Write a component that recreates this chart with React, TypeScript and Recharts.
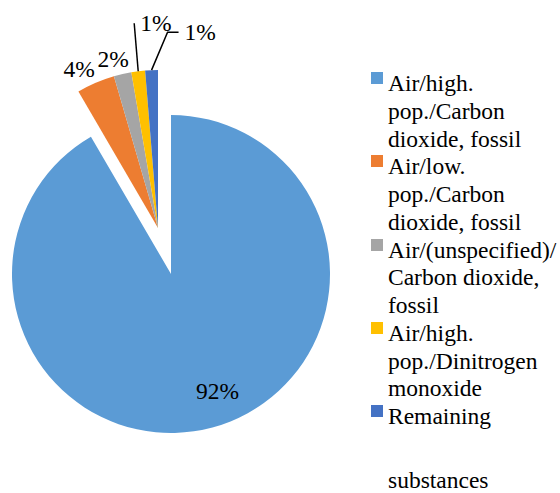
import React from 'react';
import { PieChart, Pie, Cell, Legend } from 'recharts';

// Substance categories (line breaks as shown in the legend)
const categories = [
  'Air/high.\npop./Carbon\ndioxide, fossil',
  'Air/low.\npop./Carbon\ndioxide, fossil',
  'Air/(unspecified)/\nCarbon dioxide,\nfossil',
  'Air/high.\npop./Dinitrogen\nmonoxide',
  'Remaining\n\nsubstances',
];

// Share of each substance (percent)
const shares = [91.6, 3.9, 1.8, 1.4, 1.3];

const colors = ['#5B9BD5', '#ED7D31', '#A5A5A5', '#FFC000', '#4472C4'];

const data = categories.map((name, i) => ({ name, value: shares[i] }));

const FONT = 'Liberation Serif';
const FONT_SIZE = 23.5;
const RAD = Math.PI / 180;

// Leader-line layout for the thinnest slices (offsets from the slice edge)
const leaders: Record<number, { dx: number; dy: number; run: number }> = {
  3: { dx: -4, dy: -48, run: 0 },
  4: { dx: 16, dy: -38, run: 11 },
};

const pctText = (p: number) => `${Math.round(p * 100)}%`;

const mainLabel = (props: any) => {
  const { cx, cy, midAngle, outerRadius, percent, index } = props;
  if (index !== 0) return null;
  const r = outerRadius * 0.76;
  const x = cx + r * Math.cos(-midAngle * RAD) + 15;
  const y = cy + r * Math.sin(-midAngle * RAD);
  return (
    <text x={x} y={y} textAnchor="middle" dominantBaseline="central"
      fontFamily={FONT} fontSize={FONT_SIZE} fill="#000">
      {pctText(percent)}
    </text>
  );
};

const explodedLabel = (props: any) => {
  const { cx, cy, midAngle, outerRadius, percent, index } = props;
  if (index === 0) return null;
  const c = Math.cos(-midAngle * RAD);
  const s = Math.sin(-midAngle * RAD);
  const ex = cx + outerRadius * c;
  const ey = cy + outerRadius * s;
  const lead = leaders[index];
  if (lead) {
    const mx = ex + lead.dx;
    const my = ey + lead.dy;
    const tx = mx + lead.run;
    return (
      <g>
        <polyline points={`${ex},${ey} ${mx},${my} ${tx},${my}`}
          fill="none" stroke="#000" strokeWidth={1.5} />
        <text x={tx + 6} y={my} textAnchor="start" dominantBaseline="central"
          fontFamily={FONT} fontSize={FONT_SIZE} fill="#000">
          {pctText(percent)}
        </text>
      </g>
    );
  }
  const r = outerRadius + 14;
  const px = cx + r * c;
  const py = cy + r * s;
  const x = px + c * 28;
  const y = py + s * 1.5;
  return (
    <text x={x} y={y} textAnchor="middle" dominantBaseline="central"
      fontFamily={FONT} fontSize={FONT_SIZE} fill="#000">
      {pctText(percent)}
    </text>
  );
};

const LegendBox = () => (
  <div style={{ fontFamily: FONT, fontSize: FONT_SIZE, lineHeight: '27.75px', color: '#000' }}>
    {categories.map((name, i) => (
      <div key={i} style={{ position: 'relative', paddingLeft: 17 }}>
        <span style={{ position: 'absolute', left: 0, top: 2, width: 12, height: 12, background: colors[i] }} />
        {name.split('\n').map((line, j) =>
          line ? (
            <div key={j} style={{ whiteSpace: 'pre' }}>{line}</div>
          ) : (
            <div key={j} style={{ height: 36 }} />
          )
        )}
      </div>
    ))}
  </div>
);

export default function App() {
  return (
    <div style={{ position: 'absolute', left: 0, top: 0, background: '#fff' }}>
      <PieChart width={560} height={493} margin={{ top: 0, right: 0, bottom: 0, left: 0 }}>
        {/* main slice */}
        <Pie data={data} dataKey="value" nameKey="name" cx={171} cy={274} outerRadius={159}
          startAngle={90} endAngle={-270} stroke="none" isAnimationActive={false}
          label={mainLabel} labelLine={false}>
          {data.map((d, i) => (
            <Cell key={i} fill={i === 0 ? colors[i] : 'none'} stroke="none" />
          ))}
        </Pie>
        {/* exploded group of small slices */}
        <Pie data={data} dataKey="value" nameKey="name" cx={158} cy={228} outerRadius={158}
          startAngle={90} endAngle={-270} stroke="none" isAnimationActive={false}
          label={explodedLabel} labelLine={false}>
          {data.map((d, i) => (
            <Cell key={i} fill={i === 0 ? 'none' : colors[i]} stroke="none" />
          ))}
        </Pie>
        <Legend layout="vertical" align="right" verticalAlign="middle"
          content={() => <LegendBox />}
          wrapperStyle={{ left: 371, top: 70, width: 189 }} />
      </PieChart>
    </div>
  );
}
